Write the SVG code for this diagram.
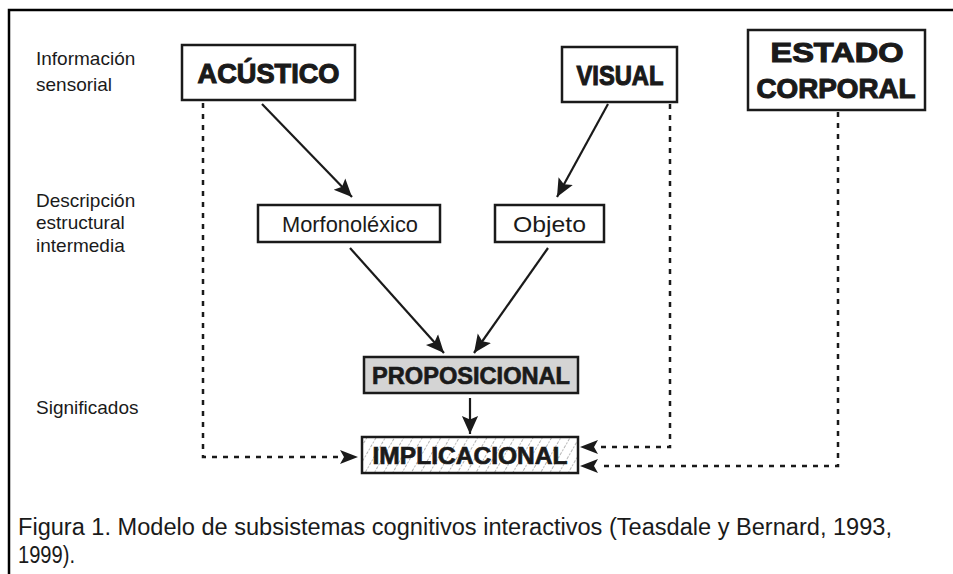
<svg xmlns="http://www.w3.org/2000/svg" width="953" height="574" viewBox="0 0 953 574">
<defs>
<marker id="ahb" viewBox="0 0 10 10" refX="10" refY="5" markerWidth="18" markerHeight="18" markerUnits="userSpaceOnUse" orient="auto">
<path d="M0,0.5 L10,5 L0,9.5 L2,5 z" fill="#1a1a1a"/>
</marker>
<pattern id="hatch" width="8" height="8" patternUnits="userSpaceOnUse" patternTransform="rotate(30)">
<rect width="8" height="8" fill="#fff"/>
<line x1="0" y1="0" x2="0" y2="8" stroke="#666" stroke-width="1" stroke-dasharray="2,1.5"/>
</pattern>
<style>
.box{fill:#fff;stroke:#1a1a1a;stroke-width:2.5}
.big{font-family:"Liberation Sans",Arial,sans-serif;font-weight:bold;font-size:27px;fill:#1a1a1a;stroke:#1a1a1a;stroke-width:1.1;text-anchor:middle}
.mid{font-family:"Liberation Sans",Arial,sans-serif;font-weight:bold;font-size:24px;fill:#1a1a1a;stroke:#1a1a1a;stroke-width:0.7;text-anchor:middle}
.reg{font-family:"Liberation Sans",Arial,sans-serif;font-size:21.5px;fill:#1a1a1a;text-anchor:middle}
.lab{font-family:"Liberation Sans",Arial,sans-serif;font-size:19px;fill:#1a1a1a}
.cap{font-family:"Liberation Sans",Arial,sans-serif;font-size:23px;fill:#1a1a1a}
.sol{fill:none;stroke:#1a1a1a;stroke-width:2.2}
.dot{fill:none;stroke:#1a1a1a;stroke-width:2.5;stroke-dasharray:5,6}
</style>
</defs>
<rect width="953" height="574" fill="#fff"/>
<path d="M9,574 L9,10 L953,10" fill="none" stroke="#000" stroke-width="2.5"/>

<text class="lab" x="36" y="65">Información</text>
<text class="lab" x="36" y="91">sensorial</text>
<text class="lab" x="36" y="207">Descripción</text>
<text class="lab" x="36" y="229">estructural</text>
<text class="lab" x="36" y="252">intermedia</text>
<text class="lab" x="36" y="414">Significados</text>

<g id="acustico">
<rect class="box" x="182" y="45" width="173" height="55"/>
<text class="big" x="268.5" y="83" textLength="142" lengthAdjust="spacingAndGlyphs">ACÚSTICO</text>
</g>
<g id="visual">
<rect class="box" x="562" y="47" width="115" height="55"/>
<text class="big" x="620" y="85" textLength="87" lengthAdjust="spacingAndGlyphs">VISUAL</text>
</g>
<g id="estado">
<rect class="box" x="748" y="30" width="177" height="80"/>
<text class="big" x="837" y="62" textLength="133" lengthAdjust="spacingAndGlyphs">ESTADO</text>
<text class="big" x="836" y="98" textLength="159" lengthAdjust="spacingAndGlyphs">CORPORAL</text>
</g>
<g id="morfonolexico">
<rect class="box" x="258" y="205" width="182" height="37" stroke-width="2"/>
<text class="reg" x="350" y="232" textLength="136" lengthAdjust="spacingAndGlyphs">Morfonoléxico</text>
</g>
<g id="objeto">
<rect class="box" x="495" y="205" width="109" height="37" stroke-width="2"/>
<text class="reg" x="549.5" y="232" textLength="73" lengthAdjust="spacingAndGlyphs">Objeto</text>
</g>
<g id="proposicional">
<rect class="box" x="364" y="357" width="214" height="36" style="fill:#d4d4d4"/>
<text class="mid" x="471" y="384" textLength="198" lengthAdjust="spacingAndGlyphs">PROPOSICIONAL</text>
</g>
<g id="implicacional">
<rect class="box" x="362" y="437" width="216" height="36" style="fill:url(#hatch)"/>
<text class="mid" x="470" y="464" textLength="195" lengthAdjust="spacingAndGlyphs">IMPLICACIONAL</text>
</g>

<g id="connectors">
<line class="sol" x1="262" y1="104" x2="352" y2="197" marker-end="url(#ahb)"/>
<line class="sol" x1="608" y1="104" x2="557" y2="197" marker-end="url(#ahb)"/>
<line class="sol" x1="350" y1="248" x2="444" y2="353" marker-end="url(#ahb)"/>
<line class="sol" x1="548" y1="248" x2="474" y2="353" marker-end="url(#ahb)"/>
<line class="sol" x1="470" y1="398" x2="470" y2="434" marker-end="url(#ahb)"/>
<path class="dot" d="M203,103 L203,457 L340,457"/>
<path d="M340,450 L358,457 L340,464 L344,457 z" fill="#1a1a1a"/>
<path class="dot" d="M670,104 L670,447 L598,447"/>
<path d="M598,440 L580,447 L598,454 L594,447 z" fill="#1a1a1a"/>
<path class="dot" d="M838,112 L838,466 L598,466"/>
<path d="M598,459 L580,466 L598,473 L594,466 z" fill="#1a1a1a"/>
</g>

<text class="cap" x="18" y="535" textLength="874" lengthAdjust="spacingAndGlyphs">Figura 1.  Modelo de subsistemas cognitivos interactivos (Teasdale y Bernard, 1993,</text>
<text class="cap" x="18" y="563" textLength="57" lengthAdjust="spacingAndGlyphs">1999).</text>
</svg>
